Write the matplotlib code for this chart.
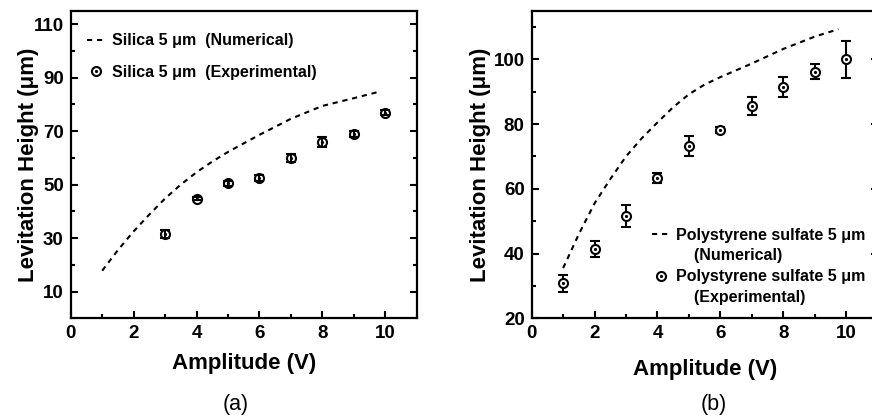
import numpy as np
import matplotlib.pyplot as plt
from matplotlib.ticker import MultipleLocator
from matplotlib.lines import Line2D

plt.rcParams['font.family'] = ['Liberation Sans', 'DejaVu Sans']
plt.rcParams['font.weight'] = 'bold'

# (a) silica 5 um
silica_num_x = [1, 1.5, 2, 2.5, 3, 3.5, 4, 4.5, 5, 6, 7, 8, 9, 9.8]
silica_num_y = [17.8, 25.5, 32.5, 38.8, 44.8, 50.0, 54.6, 58.6, 62.2, 68.6, 74.6, 79.4, 82.3, 84.7]
silica_exp_x = [3, 4, 5, 6, 7, 8, 9, 10]
silica_exp_y = [31.5, 44.7, 50.4, 52.5, 59.8, 65.9, 68.9, 76.9]
silica_exp_err = [1.6, 0.5, 1.0, 1.0, 1.5, 2.0, 1.3, 0.8]

# (b) polystyrene sulfate 5 um
ps_num_x = [1, 1.5, 2, 2.5, 3, 3.5, 4, 4.5, 5, 5.5, 6, 7, 8, 9, 9.75]
ps_num_y = [35.5, 46.0, 55.5, 63.0, 70.0, 75.6, 80.5, 85.2, 89.2, 92.2, 94.5, 98.7, 103.2, 107.0, 109.3]
ps_exp_x = [1, 2, 3, 4, 5, 6, 7, 8, 9, 10]
ps_exp_y = [30.8, 41.4, 51.6, 63.3, 73.2, 78.1, 85.5, 91.3, 96.2, 100.0]
ps_exp_err = [2.7, 2.4, 3.5, 1.5, 3.2, 1.0, 2.8, 3.1, 2.2, 5.7]

fig = plt.figure(figsize=(8.72, 4.17), dpi=100)
ax1 = fig.add_axes([0.0811, 0.2367, 0.3968, 0.7376])
ax2 = fig.add_axes([0.6097, 0.2367, 0.3968, 0.7376])

dash = (0, (2.5, 2.3))


def style_axes(ax, ymaj, ymin, xpad, ypad):
    for s in ax.spines.values():
        s.set_linewidth(1.6)
    ax.set_xlim(0, 11)
    ax.xaxis.set_major_locator(MultipleLocator(2))
    ax.xaxis.set_minor_locator(MultipleLocator(1))
    ax.set_yticks(ymaj)
    ax.set_yticks(ymin, minor=True)
    ax.tick_params(which='both', direction='in', top=False, right=True,
                   width=1.5, labelsize=13.5, pad=5)
    ax.tick_params(which='major', length=5)
    ax.tick_params(which='minor', length=3)
    ax.set_xlabel('Amplitude (V)', fontsize=16, fontweight='bold', labelpad=xpad)
    ax.set_ylabel('Levitation Height (μm)', fontsize=16, fontweight='bold', labelpad=ypad)


def exp_points(ax, x, y, err, face):
    eb = ax.errorbar(x, y, yerr=err, fmt='o', ms=6.5, mfc=face, mec='k', mew=1.5,
                     ecolor='k', elinewidth=1.5, capsize=3.5, capthick=1.5)
    dot, = ax.plot(x, y, 'o', ms=1.3, color='k', zorder=5)
    return eb, dot


# panel (a)
ln1, = ax1.plot(silica_num_x, silica_num_y, color='k', lw=1.5, linestyle=dash)
eb1, dot1 = exp_points(ax1, silica_exp_x, silica_exp_y, silica_exp_err, 'none')
ax1.set_ylim(0, 115)
style_axes(ax1, [10, 30, 50, 70, 90, 110], [20, 40, 60, 80, 100], 8, -4)
mk1 = Line2D([], [], marker='o', ms=6.5, mfc='white', mec='k', mew=1.5, ls='none')
ax1.legend([ln1, (mk1, dot1)],
           ['Silica 5 μm  (Numerical)', 'Silica 5 μm  (Experimental)'],
           loc='upper left', bbox_to_anchor=(0.0286, 0.948), borderaxespad=0,
           frameon=False, fontsize=11.5, handlelength=1.15,
           labelspacing=1.05, handletextpad=0.4)
fig.text(0.27, 0.017, '(a)', ha='center', fontsize=15.5, fontweight='normal')

# panel (b)
ln2, = ax2.plot(ps_num_x, ps_num_y, color='k', lw=1.5, linestyle=dash)
eb2, dot2 = exp_points(ax2, ps_exp_x, ps_exp_y, ps_exp_err, 'white')
ax2.set_ylim(20, 115)
style_axes(ax2, [20, 40, 60, 80, 100], [30, 50, 70, 90, 110], 12, 2)
blank = Line2D([], [], ls='none')
ax2.legend([ln2, blank, (mk1, dot2), blank],
           ['Polystyrene sulfate 5 μm', '    (Numerical)',
            'Polystyrene sulfate 5 μm', '    (Experimental)'],
           loc='lower left', bbox_to_anchor=(0.305, -0.003), frameon=False,
           fontsize=11.5, handlelength=1.15, labelspacing=0.36, handletextpad=0.4)
fig.text(0.818, 0.017, '(b)', ha='center', fontsize=15.5, fontweight='normal')

fig.savefig('out.png', dpi=100)
